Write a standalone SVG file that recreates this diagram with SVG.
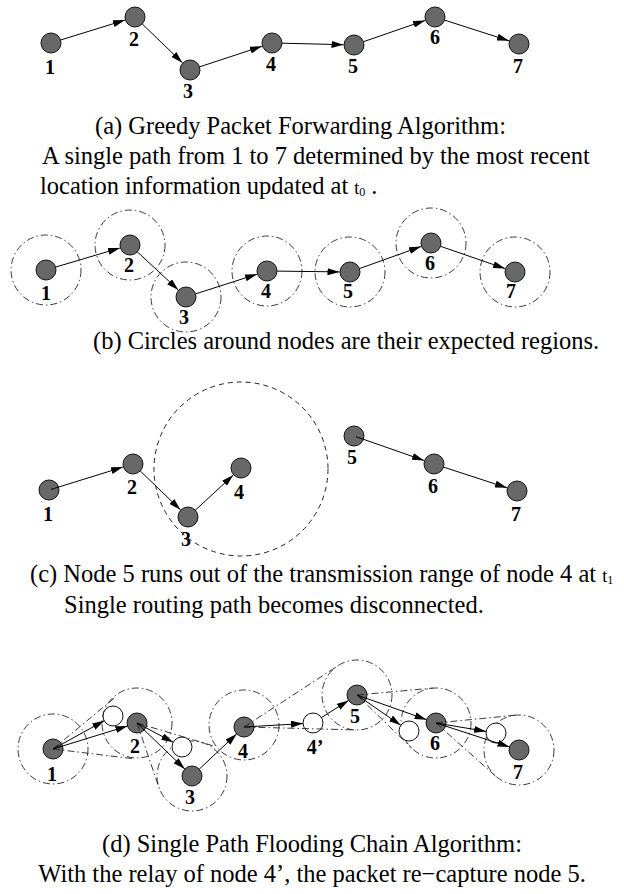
<svg xmlns="http://www.w3.org/2000/svg" width="624" height="894" viewBox="0 0 624 894">
<style>
.n{fill:#686868;stroke:#111;stroke-width:1}
.w{fill:#fff;stroke:#111;stroke-width:1}
.lb{font-family:"Liberation Serif",serif;font-weight:bold;font-size:20px;text-anchor:middle;fill:#000}
.cap{font-family:"Liberation Serif",serif;font-size:24.5px;fill:#000}
.e{fill:none;stroke:#000;stroke-width:1;marker-end:url(#ah)}
.rg{fill:none;stroke:#222;stroke-width:0.9;stroke-dasharray:7 3 1.5 3}
.hl{fill:none;stroke:#222;stroke-width:0.9;stroke-dasharray:7 3 1.5 3}
.big{fill:none;stroke:#222;stroke-width:1;stroke-dasharray:5 4}
</style>
<defs>
<marker id="ah" viewBox="0 0 12 7" refX="12" refY="3.5" markerWidth="12" markerHeight="7" markerUnits="userSpaceOnUse" orient="auto"><path d="M0,0 L12,3.5 L0,7 z" fill="#000"/></marker>
</defs>

<!-- Panel (a) -->
<g id="panel-a-connectors">
<line class="e" x1="60.6" y1="40.0" x2="125.0" y2="20.1"/>
<line class="e" x1="142.2" y1="23.9" x2="182.4" y2="62.7"/>
<line class="e" x1="199.5" y1="66.9" x2="262.0" y2="46.3"/>
<line class="e" x1="282" y1="43.2" x2="343.5" y2="44.7"/>
<line class="e" x1="363.5" y1="41.7" x2="425.1" y2="20.4"/>
<line class="e" x1="444.5" y1="20.1" x2="509.0" y2="40.8"/>
</g>
<g id="a-n1"><circle class="n" cx="51" cy="43" r="10"/><text class="lb" x="50" y="74">1</text></g>
<g id="a-n2"><circle class="n" cx="135" cy="17" r="10"/><text class="lb" x="134" y="46">2</text></g>
<g id="a-n3"><circle class="n" cx="190" cy="70" r="10"/><text class="lb" x="188" y="98">3</text></g>
<g id="a-n4"><circle class="n" cx="272" cy="43" r="10"/><text class="lb" x="271" y="71">4</text></g>
<g id="a-n5"><circle class="n" cx="354" cy="45" r="10"/><text class="lb" x="353" y="73">5</text></g>
<g id="a-n6"><circle class="n" cx="435" cy="17" r="10"/><text class="lb" x="435" y="44">6</text></g>
<g id="a-n7"><circle class="n" cx="519" cy="44" r="10"/><text class="lb" x="518" y="73">7</text></g>
<text class="cap" x="95" y="134">(a) Greedy Packet Forwarding Algorithm:</text>
<text class="cap" x="42" y="164">A single path from 1 to 7 determined by the most recent</text>
<text class="cap" x="40" y="194">location information updated at <tspan font-size="18">t</tspan><tspan font-size="12" dy="2">0</tspan><tspan dy="-2" dx="6">.</tspan></text>

<!-- Panel (b) -->
<g id="panel-b-regions">
<circle class="rg" cx="46" cy="270" r="35"/>
<circle class="rg" cx="130" cy="245" r="35"/>
<circle class="rg" cx="186" cy="297" r="35"/>
<circle class="rg" cx="267" cy="271" r="35"/>
<circle class="rg" cx="350" cy="272" r="35"/>
<circle class="rg" cx="431" cy="243" r="35"/>
<circle class="rg" cx="515" cy="272" r="35"/>
</g>
<g id="panel-b-connectors">
<line class="e" x1="55.6" y1="267.1" x2="119.9" y2="248.0"/>
<line class="e" x1="137.3" y1="251.8" x2="178.3" y2="289.9"/>
<line class="e" x1="195.5" y1="293.9" x2="257.0" y2="274.2"/>
<line class="e" x1="277" y1="271.1" x2="339.5" y2="271.9"/>
<line class="e" x1="359.4" y1="268.6" x2="421.1" y2="246.5"/>
<line class="e" x1="440.5" y1="246.3" x2="505.1" y2="268.6"/>
</g>
<g id="b-n1"><circle class="n" cx="46" cy="270" r="10"/><text class="lb" x="46" y="300">1</text></g>
<g id="b-n2"><circle class="n" cx="130" cy="245" r="10"/><text class="lb" x="129" y="272">2</text></g>
<g id="b-n3"><circle class="n" cx="186" cy="297" r="10"/><text class="lb" x="184" y="324">3</text></g>
<g id="b-n4"><circle class="n" cx="267" cy="271" r="10"/><text class="lb" x="266" y="298">4</text></g>
<g id="b-n5"><circle class="n" cx="350" cy="272" r="10"/><text class="lb" x="348" y="298">5</text></g>
<g id="b-n6"><circle class="n" cx="431" cy="243" r="10"/><text class="lb" x="430" y="270">6</text></g>
<g id="b-n7"><circle class="n" cx="515" cy="272" r="10"/><text class="lb" x="511" y="298">7</text></g>
<text class="cap" x="93" y="349">(b) Circles around nodes are their expected regions.</text>

<!-- Panel (c) -->
<circle id="c-range" class="big" cx="241" cy="469" r="87"/>
<g id="c-n1"><circle class="n" cx="49" cy="490" r="10"/><text class="lb" x="48" y="521">1</text></g>
<g id="c-n2"><circle class="n" cx="133" cy="464" r="10"/><text class="lb" x="132" y="494">2</text></g>
<g id="c-n3"><circle class="n" cx="188" cy="517" r="10"/><text class="lb" x="186" y="546">3</text></g>
<g id="c-n4"><circle class="n" cx="241" cy="468" r="10"/><text class="lb" x="239" y="499">4</text></g>
<g id="c-n5"><circle class="n" cx="354" cy="436" r="10"/><text class="lb" x="352" y="464">5</text></g>
<g id="c-n6"><circle class="n" cx="434" cy="464" r="10"/><text class="lb" x="433" y="493">6</text></g>
<g id="c-n7"><circle class="n" cx="517" cy="491" r="10"/><text class="lb" x="516" y="521">7</text></g>
<g id="panel-c-connectors">
<line class="e" x1="51" y1="489.4" x2="123.0" y2="467.1"/>
<line class="e" x1="140.2" y1="470.9" x2="180.4" y2="509.7"/>
<line class="e" x1="195.3" y1="510.2" x2="233.3" y2="475.1"/>
<line class="e" x1="356" y1="436.7" x2="424.1" y2="460.5"/>
<line class="e" x1="443.5" y1="467.1" x2="507.0" y2="487.8"/>
</g>
<text class="cap" x="30" y="582">(c) Node 5 runs out of the transmission range of node 4 at <tspan font-size="18">t</tspan><tspan font-size="12" dy="2">1</tspan></text>
<text class="cap" x="64" y="613">Single routing path becomes disconnected.</text>

<!-- Panel (d) -->
<g id="panel-d-regions">
<circle class="rg" cx="53" cy="749" r="35"/>
<circle class="rg" cx="137" cy="723" r="35"/>
<circle class="rg" cx="192" cy="776" r="35"/>
<circle class="rg" cx="244" cy="725" r="35"/>
<circle class="rg" cx="357" cy="695" r="35"/>
<circle class="rg" cx="436" cy="723" r="35"/>
<circle class="rg" cx="519" cy="750" r="35"/>
</g>
<g id="d-n1"><circle class="n" cx="53" cy="749" r="10"/><text class="lb" x="52" y="781">1</text></g>
<g id="d-relay-a"><circle class="w" cx="113" cy="716" r="10"/></g>
<g id="d-n2"><circle class="n" cx="137" cy="723" r="10"/><text class="lb" x="135" y="753">2</text></g>
<g id="d-relay-b"><circle class="w" cx="182" cy="747" r="10"/></g>
<g id="d-n3"><circle class="n" cx="192" cy="776" r="10"/><text class="lb" x="190" y="804">3</text></g>
<g id="d-n4"><circle class="n" cx="244" cy="727" r="10"/><text class="lb" x="243" y="758">4</text></g>
<g id="d-n4p"><circle class="w" cx="313" cy="723" r="10"/><text class="lb" x="315" y="754">4’</text></g>
<g id="d-n5"><circle class="n" cx="357" cy="695" r="10"/><text class="lb" x="355" y="723">5</text></g>
<g id="d-relay-c"><circle class="w" cx="409" cy="731" r="10"/></g>
<g id="d-n6"><circle class="n" cx="436" cy="723" r="10"/><text class="lb" x="435" y="750">6</text></g>
<g id="d-relay-d"><circle class="w" cx="496" cy="733" r="10"/></g>
<g id="d-n7"><circle class="n" cx="519" cy="750" r="10"/><text class="lb" x="518" y="779">7</text></g>
<g id="panel-d-connectors">
<line class="hl" x1="53" y1="749" x2="115.6" y2="697"/>
<line class="hl" x1="53" y1="749" x2="133.8" y2="758.8"/>
<line class="hl" x1="137" y1="723" x2="212.7" y2="745.7"/>
<line class="hl" x1="137" y1="723" x2="158.9" y2="787.3"/>
<line class="hl" x1="244" y1="727" x2="337.9" y2="665.8"/>
<line class="hl" x1="244" y1="727" x2="356" y2="729.9"/>
<line class="hl" x1="357" y1="695" x2="432.8" y2="688.1"/>
<line class="hl" x1="357" y1="695" x2="411.6" y2="748"/>
<line class="hl" x1="436" y1="723" x2="515.6" y2="715.2"/>
<line class="hl" x1="436" y1="723" x2="495.7" y2="776.2"/>
<line class="e" x1="53" y1="749" x2="104.2" y2="720.8"/>
<line class="e" x1="53" y1="749" x2="127.4" y2="726.0"/>
<line class="e" x1="137" y1="723" x2="173.2" y2="742.3"/>
<line class="e" x1="137" y1="723" x2="184.8" y2="769.1"/>
<line class="e" x1="199.3" y1="769.1" x2="236.7" y2="733.9"/>
<line class="e" x1="244" y1="727" x2="303.0" y2="723.6"/>
<line class="e" x1="321.4" y1="717.6" x2="348.6" y2="700.4"/>
<line class="e" x1="357" y1="695" x2="400.8" y2="725.3"/>
<line class="e" x1="357" y1="695" x2="426.6" y2="719.7"/>
<line class="e" x1="436" y1="723" x2="486.1" y2="731.4"/>
<line class="e" x1="436" y1="723" x2="509.5" y2="746.9"/>
</g>
<text class="cap" x="312" y="852" text-anchor="middle">(d) Single Path Flooding Chain Algorithm:</text>
<text class="cap" x="312" y="882" text-anchor="middle">With the relay of node 4’, the packet re−capture node 5.</text>
</svg>
